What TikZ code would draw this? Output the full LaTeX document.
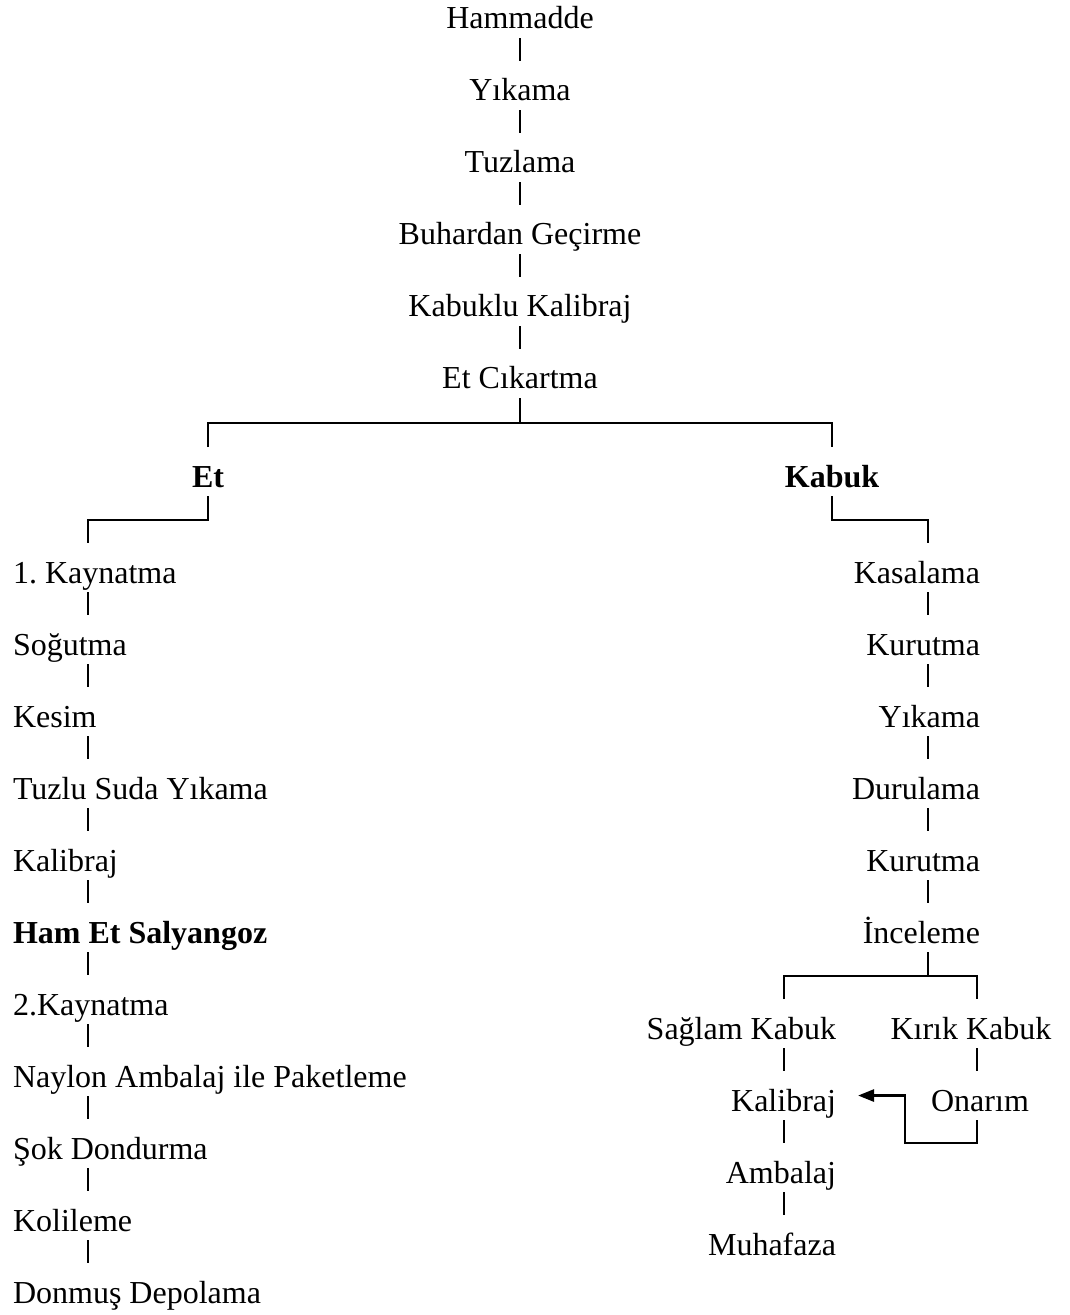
\documentclass[tikz,border=0pt]{standalone}
\usepackage{fontspec}
\setmainfont{Liberation Serif}
\usetikzlibrary{arrows.meta}
\frenchspacing
\tikzset{
	stage/.style={inner sep=0pt, outer xsep=0pt, outer ysep=3.4pt, text height=11.6pt, text depth=0pt, font=\fontsize{12}{14}\selectfont},
	boldstage/.style={stage, font=\fontsize{12}{14}\selectfont\bfseries}
}
\begin{document}
\begin{tikzpicture}[x=0.375pt,y=-0.375pt,line width=0.8pt]
	\useasboundingbox (0,0) rectangle (1069,1315);
	\def\d{72} % line pitch
	\coordinate (lx) at (88,0);
	\coordinate (rx) at (928,0);
	\coordinate (sx) at (784,0);
	\coordinate (kx) at (977,0);
	
	% main line
	\foreach \t [count=\i] in {Hammadde,Yıkama,Tuzlama,Buhardan Geçirme,Kabuklu Kalibraj,Et Cıkartma}
		\node[stage,anchor=base] (mc\i) at (520,{29+(\i-1)*\d}) {\t};
	\foreach \i in {1,...,5} {\pgfmathtruncatemacro{\j}{\i+1}
		\draw (mc\i.south) -- (mc\j.north);}
	
	\node[boldstage,anchor=base] (et) at (208,487) {Et};
	\node[boldstage,anchor=base] (kabuk) at (832,487) {Kabuk};
	\draw (mc6.south) -- ++(0,25) coordinate (b1);
	\draw (et.north) |- (b1) -| (kabuk.north);
	
	% meat
	\foreach \t [count=\i] in {1. Kaynatma,Soğutma,Kesim,Tuzlu Suda Yıkama,Kalibraj,\textbf{Ham Et Salyangoz},2.Kaynatma,Naylon Ambalaj ile Paketleme,Şok Dondurma,Kolileme,Donmuş Depolama}
		\node[stage,anchor=base west] (et\i) at (13,{583+(\i-1)*\d}) {\t};
	\draw (et.south) -- ++(0,24) -| (et1.north -| lx);
	\foreach \i in {1,...,10} {\pgfmathtruncatemacro{\j}{\i+1}
		\draw (et\i.south -| lx) -- (et\j.north -| lx);}
	
	% shell
	\foreach \t [count=\i] in {Kasalama,Kurutma,Yıkama,Durulama,Kurutma,İnceleme}
		\node[stage,anchor=base east] (kb\i) at (980,{583+(\i-1)*\d}) {\t};
	\draw (kabuk.south) -- ++(0,24) -| (kb1.north -| rx);
	\foreach \i in {1,...,5} {\pgfmathtruncatemacro{\j}{\i+1}
		\draw (kb\i.south -| rx) -- (kb\j.north -| rx);}
	
	\foreach \t [count=\i] in {Sağlam Kabuk,Kalibraj,Ambalaj,Muhafaza}
		\node[stage,anchor=base east] (sk\i) at (836,{1039+(\i-1)*\d}) {\t};
	\node[stage,anchor=base] (kr1) at (971,1039) {Kırık Kabuk};
	\node[stage,anchor=base] (kr2) at (980,1111) {Onarım};
	\draw (kb6.south -| rx) -- ++(0,24) coordinate (b2);
	\draw (sk1.north -| sx) |- (b2) -| (kr1.north -| kx);
	\foreach \i in {1,...,3} {\pgfmathtruncatemacro{\j}{\i+1}
		\draw (sk\i.south -| sx) -- (sk\j.north -| sx);}
	\draw (kr1.south -| kx) -- (kr2.north -| kx);
	\draw[-{Triangle[length=6pt,width=4.6pt]}] (kr2.south -| kx) |- ++(-72,23) |- ([xshift=8.3pt,yshift=5.8pt]sk2.base east);
\end{tikzpicture}
\end{document}
